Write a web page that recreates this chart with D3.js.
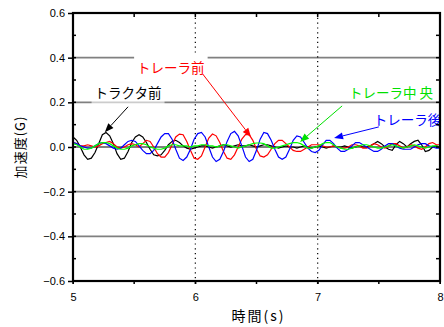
<!DOCTYPE html>
<html>
<head>
<meta charset="utf-8">
<script src="https://cdn.jsdelivr.net/npm/d3@7"></script>
<style>
  body { margin: 0; background: #fff; }
  svg { display: block; }
</style>
</head>
<body>
<script>
// sampled every 0.03 s starting at 5.00 s
var tStart = 5.0, tStep = 0.03;

var tractorFront = [
  0.045, 0.03, 0.0, -0.035, -0.055, -0.05, -0.025, 0.015, 0.055, 0.065,
  0.05, 0.015, -0.03, -0.055, -0.05, -0.02, 0.02, 0.045, 0.055, 0.045,
  0.02, -0.01, -0.035, -0.04, -0.035, -0.015, 0.01, 0.025, 0.03, 0.02,
  0.005, -0.005, -0.01, -0.005, 0.0, 0.005, 0.005, 0.0, -0.005, 0.0,
  0.005, 0.01, 0.005, 0.0, 0.005, 0.01, 0.005, 0.005, 0.01, 0.005,
  0.0, 0.005, 0.01, 0.01, 0.005, 0.0, -0.005, 0.0, 0.005, 0.0,
  0.0, -0.005, 0.0, 0.005, 0.0, -0.005, 0.0, 0.005, 0.0, -0.005,
  0.0, 0.005, 0.0, 0.0, 0.005, 0.0, -0.005, 0.0, 0.005, 0.0,
  0.0, 0.005, 0.015, 0.025, 0.015, 0.0, -0.01, -0.015, 0.01, 0.025,
  0.015, 0.0, 0.015, 0.025, 0.03, 0.01, -0.02, -0.015, 0.0, 0.005,
  0.0
];

var trailerFront = [
  0.02, 0.015, 0.005, 0.005, 0.01, 0.005, 0.0, 0.005, 0.015, 0.02,
  0.025, 0.015, 0.0, -0.005, 0.0, 0.01, 0.015, 0.01, 0.0, 0.015,
  0.03, 0.025, 0.0, -0.03, -0.045, -0.045, -0.025, 0.01, 0.045, 0.058,
  0.055, 0.025, -0.015, -0.05, -0.055, -0.04, 0.0, 0.04, 0.058, 0.05,
  0.02, -0.02, -0.05, -0.055, -0.035, 0.0, 0.035, 0.055, 0.055, 0.03,
  -0.01, -0.04, -0.045, -0.035, -0.01, 0.015, 0.03, 0.03, 0.015, 0.0,
  -0.015, -0.02, -0.02, -0.01, 0.0, 0.01, 0.01, 0.01, 0.005, 0.0,
  0.0, 0.005, 0.0, -0.005, -0.005, 0.0, 0.01, 0.01, 0.005, -0.005,
  -0.005, 0.005, 0.015, 0.01, 0.0, -0.005, 0.005, 0.015, 0.015, 0.005,
  -0.005, 0.0, 0.01, 0.005, -0.005, -0.01, 0.0, 0.015, 0.02, 0.01,
  0.01
];

var trailerMiddle = [
  0.015, 0.01, 0.0, -0.01, -0.01, -0.005, 0.005, 0.015, 0.02, 0.02,
  0.015, 0.005, -0.005, -0.01, -0.01, -0.005, 0.005, 0.01, 0.015, 0.015,
  0.01, 0.0, -0.005, -0.01, -0.01, -0.005, 0.005, 0.01, 0.01, 0.005,
  0.005, 0.005, 0.0, 0.005, 0.005, 0.01, 0.01, 0.005, 0.005, 0.0,
  0.005, 0.01, 0.01, 0.005, 0.0, -0.005, 0.0, 0.005, 0.01, 0.015,
  0.018, 0.018, 0.015, 0.005, -0.005, -0.005, 0.0, 0.005, 0.01, 0.015,
  0.02, 0.02, 0.015, 0.005, -0.005, -0.005, 0.0, 0.005, 0.015, 0.02,
  0.02, 0.01, 0.0, -0.005, -0.01, -0.01, -0.005, 0.0, 0.005, 0.01,
  0.01, 0.005, 0.0, -0.005, -0.005, 0.0, 0.005, 0.01, 0.005, 0.0,
  -0.005, 0.0, 0.005, 0.01, 0.005, 0.0, -0.005, 0.0, 0.005, 0.005,
  0.0
];

var trailerRear = [
  0.02, 0.015, 0.005, 0.0, -0.005, -0.005, 0.005, 0.015, 0.02, 0.015,
  0.005, -0.005, -0.01, -0.005, 0.01, 0.025, 0.03, 0.025, 0.005, -0.015,
  -0.03, -0.03, -0.015, 0.015, 0.045, 0.06, 0.06, 0.035, -0.01, -0.05,
  -0.06, -0.045, -0.01, 0.035, 0.06, 0.065, 0.045, 0.0, -0.045, -0.065,
  -0.055, -0.02, 0.025, 0.06, 0.07, 0.05, 0.005, -0.045, -0.065, -0.055,
  -0.015, 0.035, 0.065, 0.06, 0.03, -0.01, -0.045, -0.055, -0.045, -0.01,
  0.03, 0.05, 0.045, 0.02, -0.005, -0.02, -0.025, -0.015, 0.01, 0.03,
  0.03, 0.015, -0.005, -0.02, -0.02, -0.01, 0.005, 0.02, 0.02, 0.01,
  0.0, -0.01, -0.02, -0.02, -0.01, 0.005, 0.015, 0.015, 0.005, -0.005,
  -0.01, -0.01, -0.01, 0.0, 0.01, 0.015, 0.015, 0.005, 0.0, -0.005,
  -0.005
];

var xTicks = [5, 6, 7, 8];
var yTicks = [-0.6, -0.4, -0.2, 0, 0.2, 0.4, 0.6];
var yGrid = [-0.4, -0.2, 0.2, 0.4];
var xDotted = [6, 7];

// label position and arrow (from -> to) in data units
var labels = [
  {text: "トラクタ前", color: "#000000", at: [5.45, 0.242], from: [5.45, 0.18], to: [5.26, 0.066], box: 0.6},
  {text: "トレーラ前", color: "#ff0000", at: [5.80, 0.354], from: [6.06, 0.327], to: [6.455, 0.045], box: 1},
  {text: "トレーラ中 央", color: "#00e000", at: [7.60, 0.242], from: [7.20, 0.184], to: [6.856, 0.022], box: 0},
  {text: "トレーラ後", color: "#0000ff", at: [7.735, 0.121], from: [7.50, 0.09], to: [7.134, 0.04], box: 0}
];

var series = [
  {color: "#000000", values: tractorFront},
  {color: "#ff0000", values: trailerFront},
  {color: "#0000ff", values: trailerRear},
  {color: "#00ff00", values: trailerMiddle}
];

var width = 444, height = 327;
var margin = {top: 13, right: 4, bottom: 46, left: 73};

var svg = d3.select("body").append("svg")
    .attr("width", width)
    .attr("height", height);

var x = d3.scaleLinear().domain([5, 8]).range([margin.left, width - margin.right]);
var y = d3.scaleLinear().domain([-0.6, 0.6]).range([height - margin.bottom, margin.top]);

// gridlines
svg.append("g").selectAll("line")
    .data(yGrid)
  .enter().append("line")
    .attr("x1", x(5)).attr("x2", x(8))
    .attr("y1", function(d) { return y(d); })
    .attr("y2", function(d) { return y(d); })
    .attr("stroke", "#808080")
    .attr("stroke-width", 1.6);

svg.append("line")
    .attr("x1", x(5)).attr("x2", x(8))
    .attr("y1", y(0)).attr("y2", y(0))
    .attr("stroke", "#000").attr("stroke-width", 1);

svg.append("g").selectAll("line")
    .data(xDotted)
  .enter().append("line")
    .attr("x1", function(d) { return x(d); })
    .attr("x2", function(d) { return x(d); })
    .attr("y1", y(0.6)).attr("y2", y(-0.6))
    .attr("stroke", "#000")
    .attr("stroke-width", 1.2)
    .attr("stroke-dasharray", "1.2,3.6");

// traces
var line = d3.line()
    .x(function(d, i) { return x(tStart + i * tStep); })
    .y(function(d) { return y(d); });

svg.append("g").selectAll("path")
    .data(series)
  .enter().append("path")
    .attr("d", function(d) { return line(d.values); })
    .attr("fill", "none")
    .attr("stroke", function(d) { return d.color; })
    .attr("stroke-width", 1.2);

// label boxes, text and arrows
var lab = svg.append("g").attr("font-family", "'Noto Sans CJK JP', sans-serif").attr("font-size", 13.5);

labels.forEach(function(l) {
  var t = lab.append("text")
      .attr("x", x(l.at[0]))
      .attr("y", y(l.at[1]))
      .attr("dy", "0.35em")
      .attr("text-anchor", "middle")
      .attr("fill", l.color)
      .text(l.text);
  if (l.box > 0) {
    var bb = t.node().getBBox();
    lab.insert("rect", "text")
        .attr("x", bb.x - 3).attr("y", bb.y - 1)
        .attr("width", bb.width + 6).attr("height", bb.height + 4)
        .attr("fill", "#fff")
        .attr("fill-opacity", l.box);
  }
  var x1 = x(l.from[0]), y1 = y(l.from[1]), x2 = x(l.to[0]), y2 = y(l.to[1]);
  var ang = Math.atan2(y2 - y1, x2 - x1);
  var len = 9, half = 3.5;
  var bx = x2 - len * Math.cos(ang), by = y2 - len * Math.sin(ang);
  lab.append("line")
      .attr("x1", x1).attr("y1", y1).attr("x2", bx).attr("y2", by)
      .attr("stroke", l.color).attr("stroke-width", 1);
  lab.append("path")
      .attr("d", "M" + x2 + "," + y2 +
                 "L" + (bx + half * Math.sin(ang)) + "," + (by - half * Math.cos(ang)) +
                 "L" + (bx - half * Math.sin(ang)) + "," + (by + half * Math.cos(ang)) + "Z")
      .attr("fill", l.color);
});

// axes
var minorY = d3.range(-0.5, 0.6, 0.1);
var minorX = d3.range(5, 8.01, 0.5);

var leftAxis = svg.append("g")
    .attr("transform", "translate(" + x(5) + ",0)")
    .call(d3.axisLeft(y).tickValues(yTicks).tickSize(5).tickPadding(3).tickFormat(d3.format(".1f")));
leftAxis.select(".domain").remove();
leftAxis.selectAll("line").attr("stroke-width", 1.5);
leftAxis.selectAll("text").attr("font-family", "'Liberation Sans', Arial, sans-serif").attr("font-size", 11).attr("fill", "#000");

svg.append("g").selectAll("line")
    .data(minorY)
  .enter().append("line")
    .attr("x1", x(5)).attr("x2", x(5) + 3)
    .attr("y1", function(d) { return y(d); })
    .attr("y2", function(d) { return y(d); })
    .attr("stroke", "#000").attr("stroke-width", 1.5);

svg.append("g").selectAll("line")
    .data(minorY)
  .enter().append("line")
    .attr("x1", x(8)).attr("x2", x(8) - 4)
    .attr("y1", function(d) { return y(d); })
    .attr("y2", function(d) { return y(d); })
    .attr("stroke", "#000").attr("stroke-width", 1.5);

svg.append("g").selectAll("line")
    .data(minorX)
  .enter().append("line")
    .attr("x1", function(d) { return x(d); })
    .attr("x2", function(d) { return x(d); })
    .attr("y1", y(0.6)).attr("y2", y(0.6) + 4)
    .attr("stroke", "#000").attr("stroke-width", 1.5);

var bottomAxis = svg.append("g")
    .attr("transform", "translate(0," + y(-0.6) + ")")
    .call(d3.axisBottom(x).tickValues(xTicks).tickSize(3).tickPadding(9).tickFormat(d3.format("d")));
bottomAxis.select(".domain").remove();
bottomAxis.selectAll("text").attr("font-family", "'Liberation Sans', Arial, sans-serif").attr("font-size", 11).attr("fill", "#000");

svg.append("g").selectAll("line")
    .data(minorX)
  .enter().append("line")
    .attr("x1", function(d) { return x(d); })
    .attr("x2", function(d) { return x(d); })
    .attr("y1", y(-0.6)).attr("y2", y(-0.6) + 3)
    .attr("stroke", "#000").attr("stroke-width", 1.5);

// frame
svg.append("rect")
    .attr("x", x(5)).attr("y", y(0.6))
    .attr("width", x(8) - x(5)).attr("height", y(-0.6) - y(0.6))
    .attr("fill", "none")
    .attr("stroke", "#000")
    .attr("stroke-width", 2.2);

// axis titles
svg.append("text")
    .attr("x", (x(5) + x(8)) / 2 + 2)
    .attr("y", 321)
    .attr("text-anchor", "middle")
    .attr("font-family", "'Noto Sans CJK JP', sans-serif")
    .attr("font-size", 14)
    .attr("letter-spacing", 2)
    .text("時間(s)");

svg.append("text")
    .attr("transform", "translate(25," + y(0) + ") rotate(-90)")
    .attr("text-anchor", "middle")
    .attr("font-family", "'Noto Sans CJK JP', sans-serif")
    .attr("font-size", 13)
    .attr("letter-spacing", 1)
    .text("加速度(G)");
</script>
</body>
</html>
